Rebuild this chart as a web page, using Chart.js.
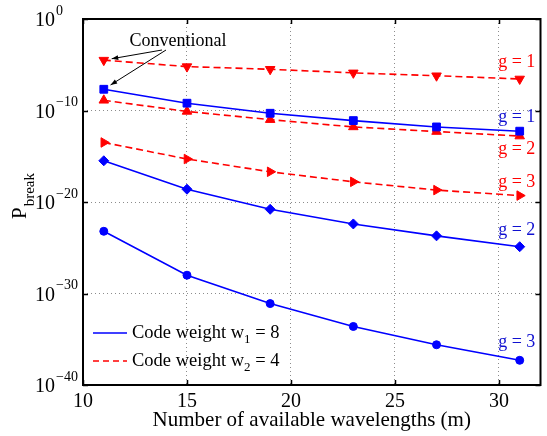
<!DOCTYPE html>
<html lang="en">
<head>
    <meta charset="UTF-8">
    <title>P break vs wavelengths</title>
    <script src="https://cdn.jsdelivr.net/npm/chart.js"></script>
    <style>
        body {
            margin: 0;
            background: #fff;
        }
        canvas {
            display: block;
        }
    </style>
</head>
<body>
    <canvas id="breakChart" width="547" height="436"></canvas>

    <script>
        // x positions: number of available wavelengths
        const wavelengths = [11, 15, 19, 23, 27, 31];

        // code weight w1 = 8 (blue, solid)
        const w8g1 = [2.1e-8, 6.3e-10, 5.0e-11, 7.9e-12, 1.6e-12, 5.5e-13];
        const w8g2 = [3.2e-16, 2.5e-19, 1.6e-21, 4.0e-23, 2.0e-24, 1.3e-25];
        const w8g3 = [6.3e-24, 1.0e-28, 7.9e-32, 2.5e-34, 2.5e-36, 5.0e-38];

        // code weight w2 = 4 (red, dashed)
        const w4g1 = [3.2e-5, 6.3e-6, 3.2e-6, 1.3e-6, 6.3e-7, 2.8e-7];
        const w4g2 = [1.3e-9, 7.9e-11, 1.0e-11, 1.6e-12, 5.0e-13, 1.6e-13];
        const w4g3 = [3.2e-14, 5.0e-16, 2.0e-17, 1.6e-18, 2.0e-19, 5.0e-20];

        const xTicks = [10, 15, 20, 25, 30];
        const yTickExps = [0, -10, -20, -30, -40];
        const legendLabels = [["Code weight w", "1", " = 8"], ["Code weight w", "2", " = 4"]];
        const groupLabels = ["g = 1", "g = 2", "g = 3", "g = 1", "g = 2", "g = 3"];

        const BLUE = '#0000ff';
        const RED = '#ff0000';
        const SERIF = '"Liberation Serif", "DejaVu Serif", serif';

        function pts(ys) {
            return wavelengths.map((x, i) => ({ x: x, y: ys[i] }));
        }

        function series(ys, color, dashed, style, rot, r) {
            return {
                data: pts(ys),
                borderColor: color,
                backgroundColor: color,
                borderWidth: 1.6,
                borderDash: dashed ? [7, 4] : [],
                pointStyle: style,
                pointRotation: rot,
                pointRadius: r,
                pointBorderWidth: 1,
                pointBackgroundColor: color,
                pointBorderColor: color,
                tension: 0
            };
        }

        const datasets = [
            series(w8g1, BLUE, false, 'rect', 0, 5.5),
            series(w8g2, BLUE, false, 'rectRot', 0, 5),
            series(w8g3, BLUE, false, 'circle', 0, 4),
            series(w4g1, RED, true, 'triangle', 180, 5.5),
            series(w4g2, RED, true, 'triangle', 0, 5.5),
            series(w4g3, RED, true, 'triangle', 90, 5.5)
        ];

        // label offsets next to last point of each series
        const labelOffsets = [-14, -16, -18, -17, 13, -13];

        const decorPlugin = {
            id: 'decor',
            afterDraw(chart) {
                const ctx = chart.ctx;
                const area = chart.chartArea;
                const xs = chart.scales.x;
                const ys = chart.scales.y;
                ctx.save();

                // frame
                ctx.strokeStyle = '#000';
                ctx.lineWidth = 2;
                ctx.setLineDash([]);
                ctx.strokeRect(area.left, area.top, area.right - area.left, area.bottom - area.top);

                // inward ticks
                ctx.lineWidth = 1.5;
                ctx.beginPath();
                xTicks.forEach(v => {
                    const px = Math.round(xs.getPixelForValue(v)) + 0.5;
                    ctx.moveTo(px, area.bottom); ctx.lineTo(px, area.bottom - 5);
                    ctx.moveTo(px, area.top); ctx.lineTo(px, area.top + 5);
                });
                yTickExps.forEach(e => {
                    const py = Math.round(ys.getPixelForValue(Math.pow(10, e))) + 0.5;
                    ctx.moveTo(area.left, py); ctx.lineTo(area.left + 5, py);
                    ctx.moveTo(area.right, py); ctx.lineTo(area.right - 5, py);
                });
                ctx.stroke();

                // y tick labels 10^e
                ctx.fillStyle = '#000';
                ctx.textBaseline = 'middle';
                yTickExps.forEach(e => {
                    const py = ys.getPixelForValue(Math.pow(10, e));
                    ctx.font = '20px ' + SERIF;
                    ctx.textAlign = 'right';
                    ctx.fillText('10', 55, py + 2);
                    ctx.font = '14px ' + SERIF;
                    ctx.textAlign = 'left';
                    ctx.fillText(e === 0 ? '0' : '\u2212' + Math.abs(e), 56, py - 8);
                });

                // y axis title P_break
                ctx.save();
                ctx.translate(26, 219);
                ctx.rotate(-Math.PI / 2);
                ctx.textAlign = 'left';
                ctx.textBaseline = 'alphabetic';
                ctx.font = '21px ' + SERIF;
                ctx.fillText('P', 0, 0);
                const pw = ctx.measureText('P').width;
                ctx.font = '15px ' + SERIF;
                ctx.fillText('break', pw + 1, 8);
                ctx.restore();

                // group labels at the right end of each series
                ctx.font = '18px ' + SERIF;
                ctx.textAlign = 'center';
                ctx.textBaseline = 'middle';
                chart.data.datasets.forEach((ds, i) => {
                    const meta = chart.getDatasetMeta(i);
                    const last = meta.data[meta.data.length - 1];
                    ctx.fillStyle = ds.borderColor === BLUE ? '#1010d0' : RED;
                    ctx.fillText(groupLabels[i], last.x - 3, last.y + labelOffsets[i]);
                });

                // "Conventional" with arrows to first points
                ctx.fillStyle = '#000';
                ctx.font = '18px ' + SERIF;
                ctx.textAlign = 'center';
                ctx.fillText('Conventional', 178, 41);
                const targets = [chart.getDatasetMeta(3).data[0], chart.getDatasetMeta(0).data[0]];
                const starts = [[162, 50], [166, 50]];
                ctx.strokeStyle = '#000';
                ctx.lineWidth = 1;
                targets.forEach((t, i) => {
                    const sx = starts[i][0], sy = starts[i][1];
                    const ang = Math.atan2(t.y - sy, t.x - sx);
                    const ex = t.x - 8 * Math.cos(ang);
                    const ey = t.y - 8 * Math.sin(ang);
                    ctx.beginPath();
                    ctx.moveTo(sx, sy);
                    ctx.lineTo(ex, ey);
                    ctx.stroke();
                    ctx.beginPath();
                    ctx.moveTo(ex, ey);
                    ctx.lineTo(ex - 7 * Math.cos(ang - 0.35), ey - 7 * Math.sin(ang - 0.35));
                    ctx.lineTo(ex - 7 * Math.cos(ang + 0.35), ey - 7 * Math.sin(ang + 0.35));
                    ctx.closePath();
                    ctx.fillStyle = '#000';
                    ctx.fill();
                });

                // legend
                const legendRows = [333, 361];
                legendRows.forEach((ly, i) => {
                    ctx.strokeStyle = i === 0 ? BLUE : RED;
                    ctx.lineWidth = 1.6;
                    ctx.setLineDash(i === 0 ? [] : [6, 4]);
                    ctx.beginPath();
                    ctx.moveTo(93, ly);
                    ctx.lineTo(127, ly);
                    ctx.stroke();
                    ctx.setLineDash([]);
                    ctx.fillStyle = '#000';
                    ctx.textAlign = 'left';
                    ctx.textBaseline = 'middle';
                    const parts = legendLabels[i];
                    let cx = 132;
                    ctx.font = '18.5px ' + SERIF;
                    ctx.fillText(parts[0], cx, ly);
                    cx += ctx.measureText(parts[0]).width;
                    ctx.font = '13px ' + SERIF;
                    ctx.fillText(parts[1], cx, ly + 7);
                    cx += ctx.measureText(parts[1]).width;
                    ctx.font = '18.5px ' + SERIF;
                    ctx.fillText(parts[2], cx, ly);
                });

                ctx.restore();
            }
        };

        new Chart(document.getElementById('breakChart'), {
            type: 'line',
            data: { datasets: datasets },
            options: {
                responsive: false,
                animation: false,
                events: [],
                layout: { padding: { left: 0, top: 19, right: 0, bottom: 0 } },
                plugins: {
                    legend: { display: false },
                    tooltip: { enabled: false }
                },
                scales: {
                    x: {
                        type: 'linear',
                        min: 10,
                        max: 32,
                        afterBuildTicks: s => { s.ticks = xTicks.map(v => ({ value: v })); },
                        afterFit: s => { s.height = 51; },
                        grid: {
                            drawTicks: false,
                            color: c => (c.tick && c.tick.value === 10) ? 'rgba(0,0,0,0)' : '#8c8c8c',
                            lineWidth: 1
                        },
                        border: { display: false, dash: [1, 3] },
                        ticks: {
                            padding: 5,
                            color: '#000',
                            font: { family: SERIF, size: 20 },
                            maxRotation: 0
                        },
                        title: {
                            display: true,
                            text: 'Number of available wavelengths (m)',
                            color: '#000',
                            font: { family: SERIF, size: 21 },
                            padding: { top: 0, bottom: 3 }
                        }
                    },
                    y: {
                        type: 'logarithmic',
                        min: 1e-40,
                        max: 1,
                        afterBuildTicks: s => { s.ticks = yTickExps.map(e => ({ value: Math.pow(10, e), major: true })); },
                        afterFit: s => { s.width = 83; },
                        grid: {
                            drawTicks: false,
                            color: c => (c.tick && (c.tick.value === 1 || c.tick.value === 1e-40)) ? 'rgba(0,0,0,0)' : '#8c8c8c',
                            lineWidth: 1
                        },
                        border: { display: false, dash: [1, 3] },
                        ticks: { display: false }
                    }
                }
            },
            plugins: [decorPlugin]
        });
    </script>
</body>
</html>
